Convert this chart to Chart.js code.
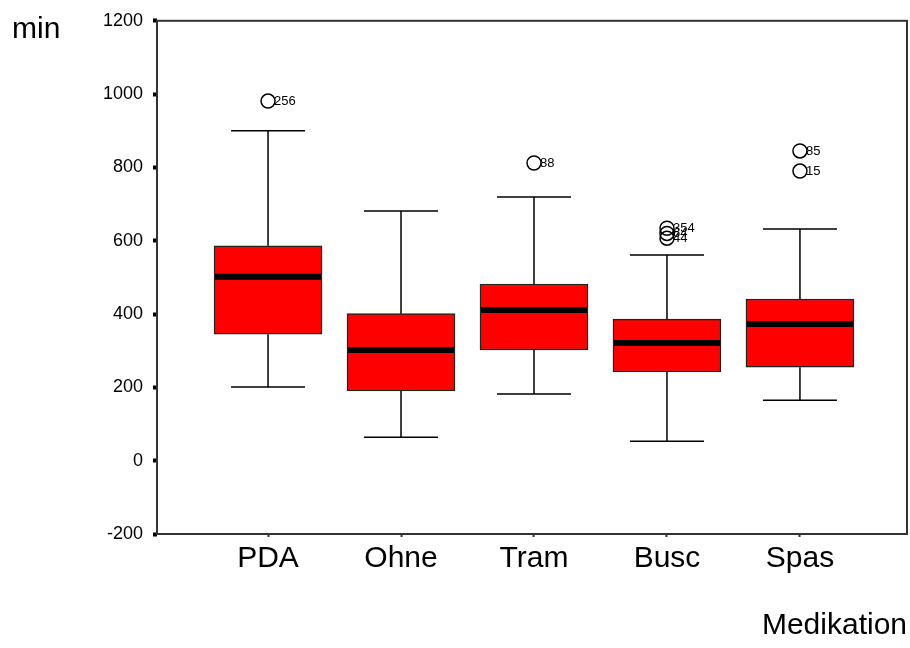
<!DOCTYPE html>
<html>
<head>
<meta charset="utf-8">
<script src="https://cdn.jsdelivr.net/npm/chart.js@4.4.1/dist/chart.umd.min.js"></script>
<style>
  body { margin: 0; background: #fff; }
  canvas { display: block; }
</style>
</head>
<body>
<canvas id="box-chart" width="910" height="648"></canvas>
<script>
// 카테고리 / 박스플롯 값 (min)
const categories = ['PDA', 'Ohne', 'Tram', 'Busc', 'Spas'];
const whiskerLow = [201, 64, 182, 53, 165];
const q1 = [345, 190, 302, 242, 255];
const median = [502, 302, 411, 321, 373];
const q3 = [586, 401, 482, 386, 441];
const whiskerHigh = [900, 681, 719, 561, 632];

// 이상치
const outlierCat = [0, 2, 3, 3, 3, 4, 4];
const outlierVal = [981, 812, 634, 620, 607, 845, 790];
const outlierId = ['256', '88', '354', '64', '44', '85', '15'];

const yTicks = [-200, 0, 200, 400, 600, 800, 1000, 1200];

Chart.defaults.font.family = '"Liberation Sans", Arial, sans-serif';
Chart.defaults.color = '#000';

// 수염, 중앙값, 테두리, 라벨 그리기
const boxExtras = {
    id: 'boxExtras',
    afterDatasetsDraw(chart) {
        const ctx = chart.ctx;
        const xs = chart.scales.x, ys = chart.scales.y;
        const area = chart.chartArea;
        ctx.save();
        ctx.strokeStyle = '#000';
        for (let i = 0; i < categories.length; i++) {
            const cx = xs.getPixelForValue(i);
            const capHalf = 37;
            const boxHalf = 53;
            ctx.lineWidth = 1.5;
            ctx.beginPath();
            ctx.moveTo(cx, ys.getPixelForValue(q3[i]));
            ctx.lineTo(cx, ys.getPixelForValue(whiskerHigh[i]));
            ctx.moveTo(cx - capHalf, ys.getPixelForValue(whiskerHigh[i]));
            ctx.lineTo(cx + capHalf, ys.getPixelForValue(whiskerHigh[i]));
            ctx.moveTo(cx, ys.getPixelForValue(q1[i]));
            ctx.lineTo(cx, ys.getPixelForValue(whiskerLow[i]));
            ctx.moveTo(cx - capHalf, ys.getPixelForValue(whiskerLow[i]));
            ctx.lineTo(cx + capHalf, ys.getPixelForValue(whiskerLow[i]));
            ctx.stroke();
            // 중앙값
            ctx.lineWidth = 6;
            ctx.beginPath();
            ctx.moveTo(cx - boxHalf, ys.getPixelForValue(median[i]));
            ctx.lineTo(cx + boxHalf, ys.getPixelForValue(median[i]));
            ctx.stroke();
        }
        // 이상치 번호
        ctx.font = '13px "Liberation Sans", Arial, sans-serif';
        ctx.fillStyle = '#000';
        ctx.textBaseline = 'middle';
        ctx.textAlign = 'left';
        const pts = chart.getDatasetMeta(1).data;
        pts.forEach((p, k) => ctx.fillText(outlierId[k], p.x + 6, p.y));
        // 프레임
        ctx.strokeStyle = '#333';
        ctx.lineWidth = 2;
        ctx.strokeRect(area.left, area.top, area.right - area.left, area.bottom - area.top);
        // 축 제목 min
        ctx.font = '30px "Liberation Sans", Arial, sans-serif';
        ctx.textBaseline = 'alphabetic';
        ctx.fillText('min', 12, 38);
        ctx.restore();
    }
};

new Chart(document.getElementById('box-chart'), {
    type: 'bar',
    data: {
        datasets: [
            {
                label: 'box',
                data: categories.map((c, i) => ({ x: i, y: [q1[i], q3[i]] })),
                backgroundColor: '#ff0000',
                borderColor: '#222',
                borderWidth: 1.5,
                borderSkipped: false,
                barThickness: 108
            },
            {
                type: 'scatter',
                label: 'outlier',
                data: outlierCat.map((c, k) => ({ x: c, y: outlierVal[k] })),
                pointStyle: 'circle',
                pointRadius: 7,
                backgroundColor: 'rgba(255,255,255,0)',
                borderColor: '#000',
                borderWidth: 1.5
            }
        ]
    },
    options: {
        responsive: false,
        animation: false,
        layout: { autoPadding: false, padding: { left: 0, top: 20, right: 3, bottom: 0 } },
        plugins: { legend: { display: false }, tooltip: { enabled: false } },
        scales: {
            x: {
                type: 'linear',
                offset: false,
                min: -0.835,
                max: 4.805,
                afterBuildTicks: (s) => { s.ticks = categories.map((c, i) => ({ value: i })); },
                afterFit: (s) => { s.height = 114; },
                ticks: {
                    callback: (v) => categories[v],
                    font: { size: 30 },
                    padding: 4,
                    autoSkip: false,
                    maxRotation: 0
                },
                grid: { offset: false, drawOnChartArea: false, drawTicks: true, tickLength: 3, tickWidth: 2, tickColor: '#333' },
                border: { display: false },
                title: {
                    display: true,
                    text: 'Medikation',
                    align: 'end',
                    font: { size: 30 },
                    padding: { top: 0, bottom: 4 }
                }
            },
            y: {
                type: 'linear',
                min: -200,
                max: 1200,
                afterBuildTicks: (s) => { s.ticks = yTicks.map(v => ({ value: v })); },
                afterFit: (s) => { s.width = 157; },
                ticks: { font: { size: 18 }, padding: 10, callback: (v) => String(v) },
                grid: { drawOnChartArea: false, drawTicks: true, tickLength: 4, tickWidth: 4, tickColor: '#000' },
                border: { display: false }
            }
        }
    },
    plugins: [boxExtras]
});
</script>
</body>
</html>
